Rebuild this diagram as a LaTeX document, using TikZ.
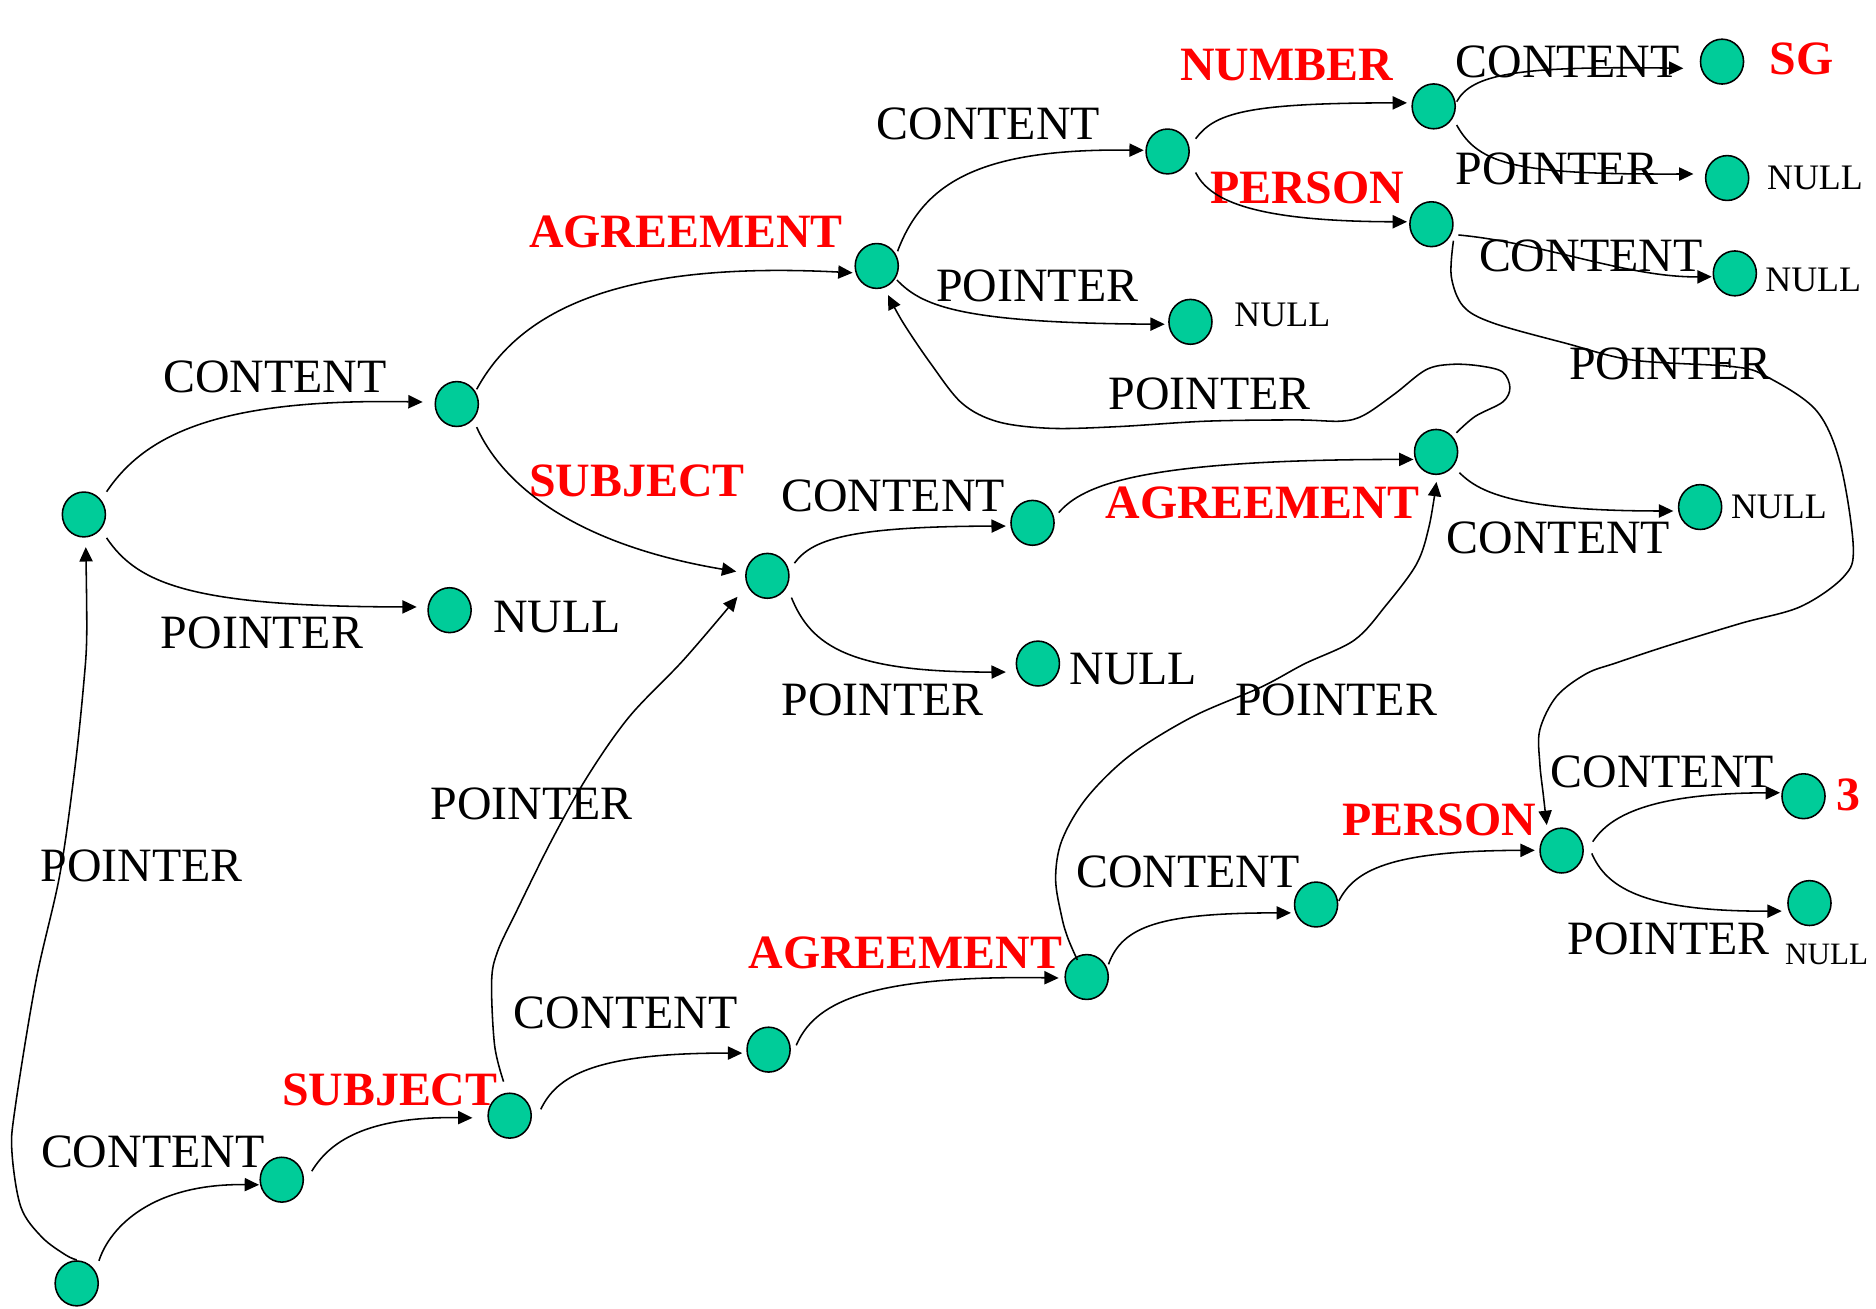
\documentclass[tikz,border=0pt]{standalone}
\usepackage{fontspec}
\setmainfont{Liberation Serif}
\usetikzlibrary{calc,arrows.meta,shapes.geometric}
\definecolor{nodegreen}{RGB}{0,204,153}
\definecolor{labelred}{RGB}{255,0,0}
\begin{document}
\begin{tikzpicture}[x=1pt,y=-1pt,
  fs/.style={draw=black, line width=1.3pt, fill=nodegreen, ellipse, minimum width=36pt, minimum height=37.5pt, inner sep=0pt},
  edge/.style={draw=black, line width=1.3pt, -{Triangle[length=12pt,width=11pt]}},
  lbl/.style={inner sep=0pt, anchor=base west, font=\fontsize{40}{48}\selectfont},
  rlbl/.style={inner sep=0pt, anchor=base west, text=labelred, font=\fontsize{40}{48}\selectfont\bfseries},
  nl/.style={inner sep=0pt, anchor=base west, font=\fontsize{30}{36}\selectfont},
  nls/.style={inner sep=0pt, anchor=base west, font=\fontsize{26}{31}\selectfont},
  ]
\fill[white] (0,0) rectangle (1568,1094);
\useasboundingbox (0,0) rectangle (1568,1094);

% ---- nodes ----
\node[fs] (n1) at (70.1,430) {};
\node[fs] (n2) at (381.8,337.7) {};
\node[fs] (n3) at (375.8,510) {};
\node[fs] (n4) at (732.8,222.3) {};
\node[fs] (n5) at (975.9,126.6) {};
\node[fs] (n6) at (995,269) {};
\node[fs] (n7) at (1198.3,88.9) {};
\node[fs] (n8) at (1196.4,187.4) {};
\node[fs] (n9) at (1439.3,51.5) {};
\node[fs] (n10) at (1443.6,148.8) {};
\node[fs] (n11) at (1450,228.5) {};
\node[fs] (n12) at (641.4,481.3) {};
\node[fs] (n13) at (863,437) {};
\node[fs] (n14) at (867.5,554.6) {};
\node[fs] (n15) at (1200.3,377.7) {};
\node[fs] (n16) at (1421,423.8) {};
\node[fs] (n17) at (64.1,1072.7) {};
\node[fs] (n18) at (235.5,986) {};
\node[fs] (n19) at (426,932.5) {};
\node[fs] (n20) at (642.4,877.3) {};
\node[fs] (n21) at (908.3,816.6) {};
\node[fs] (n22) at (1100,756) {};
\node[fs] (n23) at (1305.2,710.9) {};
\node[fs] (n24) at (1507.4,665.5) {};
\node[fs] (n25) at (1512.4,754.8) {};

% ---- labels ----
\node[lbl] (t1) at (136.3,328) {CONTENT};
\node[lbl] (t2) at (134.3,542) {POINTER};
\node[lbl] (t3) at (411.9,529) {NULL};
\node[rlbl] (t4) at (442,207) {AGREEMENT};
\node[rlbl] (t5) at (442,415) {SUBJECT};
\node[lbl] (t6) at (732.5,117) {CONTENT};
\node[lbl] (t7) at (782.4,252) {POINTER};
\node[nl] (t8) at (1031.6,273) {NULL};
\node[rlbl] (t9) at (986.3,67) {NUMBER};
\node[rlbl] (t10) at (1011.3,170) {PERSON};
\node[lbl] (t11) at (1216.7,65) {CONTENT};
\node[rlbl] (t12) at (1478.9,62.6) {SG};
\node[lbl] (t13) at (1216.7,154) {POINTER};
\node[nl] (t14) at (1476.8,158.3) {NULL};
\node[lbl] (t15) at (1236,227) {CONTENT};
\node[nl] (t16) at (1475.3,244) {NULL};
\node[lbl] (t17) at (1311.5,317.6) {POINTER};
\node[lbl] (t18) at (926.5,342) {POINTER};
\node[lbl] (t19) at (653,427.5) {CONTENT};
\node[rlbl] (t20) at (923.9,433.5) {AGREEMENT};
\node[nl] (t21) at (1446.6,433.5) {NULL};
\node[lbl] (t22) at (1209,462.6) {CONTENT};
\node[lbl] (t23) at (653,598) {POINTER};
\node[lbl] (t24) at (893.8,572.4) {NULL};
\node[lbl] (t25) at (1032.1,598) {POINTER};
\node[lbl] (t26) at (359.8,684.7) {POINTER};
\node[lbl] (t27) at (33.6,736.4) {POINTER};
\node[lbl] (t28) at (1295.8,658) {CONTENT};
\node[rlbl] (t29) at (1535,677.5) {3};
\node[rlbl] (t30) at (1121.5,698.3) {PERSON};
\node[lbl] (t31) at (899.5,741.7) {CONTENT};
\node[lbl] (t32) at (1309.9,797.7) {POINTER};
\node[nls] (t33) at (1491.9,806) {NULL};
\node[rlbl] (t34) at (625.4,809.5) {AGREEMENT};
\node[lbl] (t35) at (429.4,860) {CONTENT};
\node[rlbl] (t36) at (235.5,923.6) {SUBJECT};
\node[lbl] (t37) at (34.1,975.4) {CONTENT};

% ---- simple edges ----
\draw[edge] ($(n1)+(19,-19)$) .. controls (122,362) and (185,333) .. ($(n2)+(-28.5,-1.7)$);
\draw[edge] ($(n1)+(19,19.6)$) .. controls (115,488) and (160,507) .. ($(n3)+(-27.5,-2.7)$);
\draw[edge] ($(n2)+(16.6,-12.3)$) .. controls (435,258) and (520,218) .. ($(n4)+(-20.2,5.7)$);
\draw[edge] ($(n2)+(16.6,19.3)$) .. controls (420,405) and (480,455) .. ($(n12)+(-26,-3.6)$);
\draw[edge] ($(n4)+(17.4,-12.3)$) .. controls (772,152) and (820,124) .. ($(n5)+(-19.9,-1)$);
\draw[edge] ($(n4)+(16.8,11.7)$) .. controls (770,255) and (800,270) .. ($(n6)+(-21.5,2)$);
\draw[edge] ($(n5)+(23.4,-10.6)$) .. controls (1015,95) and (1040,86) .. ($(n7)+(-22.3,-2.9)$);
\draw[edge] ($(n5)+(23.4,17.6)$) .. controls (1010,165) and (1040,185) .. ($(n8)+(-20.4,-2)$);
\draw[edge] ($(n7)+(19.2,-3.9)$) .. controls (1230,62) and (1268,55) .. ($(n9)+(-32.3,5.6)$);
\draw[edge] ($(n7)+(19.2,15.6)$) .. controls (1236,138) and (1268,146) .. ($(n10)+(-28.2,-3.4)$);
\draw[edge] ($(n8)+(22.6,9)$) .. controls (1290,203) and (1360,232) .. ($(n11)+(-19.3,2.8)$);
\draw[edge] ($(n12)+(22.6,-10.6)$) .. controls (678,452) and (705,440) .. ($(n13)+(-22.3,2.7)$);
\draw[edge] ($(n12)+(20.1,18.2)$) .. controls (678,540) and (710,562) .. ($(n14)+(-26.8,7.1)$);
\draw[edge] ($(n13)+(21.9,-8.5)$) .. controls (905,405) and (955,384) .. ($(n15)+(-18.9,6.3)$);
\draw[edge] ($(n15)+(19.5,17.4)$) .. controls (1235,410) and (1262,427) .. ($(n16)+(-22.4,3.3)$);
\draw[edge] ($(n17)+(18.6,-18.9)$) .. controls (92,1025) and (128,989) .. ($(n18)+(-19,4.3)$);
\draw[edge] ($(n18)+(25.1,-7.1)$) .. controls (275,955) and (305,933) .. ($(n19)+(-31.1,1.8)$);
\draw[edge] ($(n19)+(26,-5.3)$) .. controls (465,900) and (495,880) .. ($(n20)+(-22,2.9)$);
\draw[edge] ($(n20)+(23.1,-3.6)$) .. controls (680,840) and (720,815) .. ($(n21)+(-23.4,0.8)$);
\draw[edge] ($(n21)+(18.2,-10.6)$) .. controls (938,774) and (970,763) .. ($(n22)+(-21,7)$);
\draw[edge] ($(n22)+(19,-3)$) .. controls (1132,728) and (1160,711) .. ($(n23)+(-22.4,-0.2)$);
\draw[edge] ($(n23)+(26,-7.4)$) .. controls (1343,686) and (1370,663) .. ($(n24)+(-19.6,-2.9)$);
\draw[edge] ($(n23)+(25.2,2.4)$) .. controls (1342,740) and (1370,762) .. ($(n25)+(-23.2,6.7)$);

% ---- long pointer edges ----
\coordinate (a12) at ($(n8)+(18.4,13.8)$);
\coordinate (b12) at ($(n23)+(-12.4,-21.3)$);
\draw[edge] plot[smooth, tension=0.55] coordinates {(a12) (1213,231) (1223,256) (1248,270) (1309,287) (1365,301) (1449,306.5) (1477,315) (1518,343) (1538,387) (1549,457) (1541,482) (1505,507) (1455,521) (1393,540) (1351,554) (1326,563) (1301,582) (1287,610) (1287,638) (1290,665) (b12)};

\coordinate (a13) at ($(n15)+(17,-16)$);
\coordinate (b13) at ($(n4)+(9.4,24.3)$);
\draw[edge] plot[smooth, tension=0.55] coordinates {(a13) (1233,348) (1256,336) (1262,324) (1256,311) (1238,306) (1214,304.5) (1192,309) (1166,329) (1140,347) (1121,352) (1084,351) (1009,352) (934,356.6) (878,358) (834,352.5) (804,337) (778,304) (755,270) (b13)};

\coordinate (a18) at ($(n17)+(0,-19.7)$);
\coordinate (b18) at ($(n1)+(1.6,27.3)$);
\draw[edge] plot[smooth, tension=0.55] coordinates {(a18) (55,1049) (35,1034) (17.5,1009) (10,963) (12.5,927) (30,820) (50,731) (62.6,642) (70,571) (72.5,530) (b18)};

\coordinate (a21) at ($(n19)+(-5.1,-28.5)$);
\coordinate (b21) at ($(n12)+(-25,17.5)$);
\draw[edge] plot[smooth, tension=0.55] coordinates {(a21) (413.4,873.7) (410.9,820.2) (415.9,795.2) (431,763.1) (461,702.5) (491,649) (526,599) (571.3,551.6) (b21)};

\coordinate (a24) at ($(n21)+(-7.8,-14.2)$);
\coordinate (b24) at ($(n15)+(0.3,25.1)$);
\draw[edge] plot[smooth, tension=0.55] coordinates {(a24) (892.7,784.5) (887.5,766.7) (882.3,734.7) (887.5,702.5) (908.3,666.8) (944.7,631.2) (996.7,599.1) (1054,574.3) (1090,555) (1132,535) (1158,506.5) (1184,471.4) (1194.5,439.7) (b24)};
\end{tikzpicture}
\end{document}
